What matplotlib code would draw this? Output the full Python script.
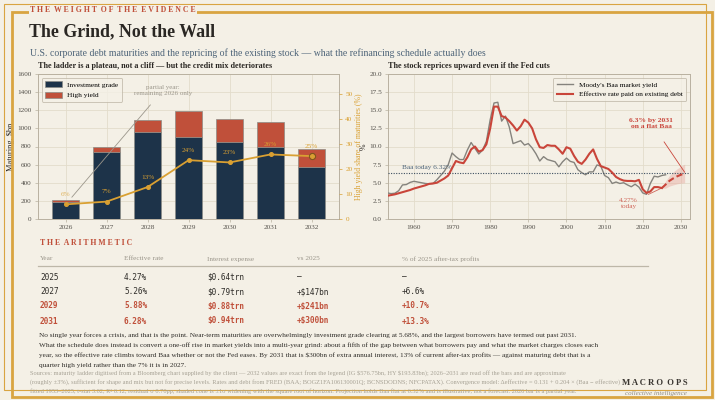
import matplotlib.pyplot as plt
from matplotlib.patches import Rectangle

plt.rcParams['font.family'] = ['Liberation Serif', 'DejaVu Serif', 'DejaVu Sans']

# maturity ladder, $bn
ladder_years = ['2026', '2027', '2028', '2029', '2030', '2031', '2032']
ig_bn = [193, 735, 955, 910, 855, 790, 576.75]
hy_bn = [12, 55, 140, 280, 250, 275, 193.83]

# Moody's Baa yield, annual
baa_years = list(range(1953, 2027))
baa_yield = [3.6, 3.5, 3.55, 3.9, 4.7, 4.75, 5.05, 5.2, 5.1, 5.0, 4.9, 4.85,
             4.9, 5.4, 6.0, 6.6, 7.5, 9.1, 8.6, 8.2, 8.2, 9.5, 10.55, 9.75,
             8.97, 9.5, 10.7, 13.7, 16.0, 16.1, 13.5, 14.2, 12.7, 10.4, 10.6, 10.8,
             10.2, 10.4, 9.8, 9.0, 8.0, 8.6, 8.2, 8.05, 7.9, 7.2, 7.9, 8.4,
             7.95, 7.8, 6.8, 6.4, 6.1, 6.5, 6.5, 7.45, 7.3, 6.0, 5.7, 4.9,
             5.1, 4.9, 5.0, 4.7, 4.45, 4.8, 4.4, 3.6, 3.4, 4.9, 5.9, 5.8,
             6.0, 6.1]

# effective rate paid on existing debt
eff_years = list(range(1953, 2026))
eff_rate = [3.2, 3.3, 3.4, 3.55, 3.7, 3.85, 4.0, 4.2, 4.35, 4.5, 4.65, 4.85,
            4.9, 5.0, 5.3, 5.6, 6.0, 7.0, 8.0, 7.8, 7.7, 8.5, 9.6, 10.0,
            9.3, 9.5, 10.3, 12.5, 15.5, 15.5, 14.2, 14.0, 13.5, 12.9, 12.2, 12.8,
            13.7, 13.3, 12.5, 11.0, 9.9, 9.8, 10.2, 10.1, 10.1, 9.6, 9.0, 9.9,
            9.7, 8.7, 7.9, 7.6, 8.2, 9.0, 9.6, 8.3, 7.3, 7.1, 6.9, 6.4,
            5.8, 5.5, 5.3, 5.25, 5.25, 5.2, 5.4, 4.1, 3.6, 3.8, 4.4, 4.4,
            4.27]

# projection with a flat Baa
proj_years = [2025, 2026, 2027, 2028, 2029, 2030, 2031]
proj_rate = [4.27, 4.75, 5.26, 5.6, 5.88, 6.1, 6.28]
cone_half = [0.0, 0.5, 0.72, 0.9, 1.03, 1.16, 1.28]
baa_today = 6.32

table_header = ['Year', 'Effective rate', 'Interest expense', 'vs 2025',
                '% of 2025 after-tax profits']
table_rows = [
    ['2025', '4.27%', '$0.64trn', '\u2013', '\u2013'],
    ['2027', '5.26%', '$0.79trn', '+$147bn', '+6.6%'],
    ['2029', '5.88%', '$0.88trn', '+$241bn', '+10.7%'],
    ['2031', '6.28%', '$0.94trn', '+$300bn', '+13.3%'],
]
highlight_rows = [False, False, True, True]

body_lines = [
    'No single year forces a crisis, and that is the point. Near-term maturities are overwhelmingly investment grade clearing at 5.68%, and the largest borrowers have termed out past 2031.',
    'What the schedule does instead is convert a one-off rise in market yields into a multi-year grind: about a fifth of the gap between what borrowers pay and what the market charges closes each',
    'year, so the effective rate climbs toward Baa whether or not the Fed eases. By 2031 that is \\$300bn of extra annual interest, 13% of current after-tax profits \u2014 against maturing debt that is a',
    'quarter high yield rather than the 7% it is in 2027.',
]
source_lines = [
    'Sources: maturity ladder digitised from a Bloomberg chart supplied by the client \u2014 2032 values are exact from the legend (IG \\$576.75bn, HY \\$193.83bn); 2026\u20132031 are read off the bars and are approximate',
    '(roughly \u00b13%), sufficient for shape and mix but not for precise levels. Rates and debt from FRED (BAA; BOGZ1FA106130001Q; BCNSDODNS; NFCPATAX). Convergence model: \u0394effective = 0.131 + 0.204 \u00d7 (Baa \u2212 effective)',
    'fitted 1953\u20132025, t-stat 3.02, R\u00b2 0.12, residual \u03c3 0.70pp; shaded cone is \u00b11\u03c3 widening with the square root of horizon. Projection holds Baa flat at 6.32% and is illustrative, not a forecast. 2026 bar is a partial year.',
]

BG = '#f4f0e6'
NAVY = '#1d3349'
RED = '#c0503a'
GOLD = '#d9a032'
FRAME = '#d9a441'
GRID = '#e3dccb'
SPINE = '#b9b1a0'
INK = '#2a2723'
SLATE = '#4c6378'
GRAY = '#9b968b'

W, H = 715, 400


def fx(px):
    return px / W


def fy(py):
    return 1 - py / H


def spaced(s):
    return '  '.join(' '.join(w) for w in s.split(' '))


fig = plt.figure(figsize=(7.15, 4.0), dpi=100, facecolor=BG)

# double frame
fig.patches.append(Rectangle((fx(4), fy(390)), fx(702), 386 / H, transform=fig.transFigure,
                             fill=False, edgecolor=FRAME, lw=0.8, zorder=0))
fig.patches.append(Rectangle((fx(12), fy(397)), fx(700), 385 / H, transform=fig.transFigure,
                             fill=False, edgecolor=FRAME, lw=2.0, zorder=0))

fig.text(fx(30), fy(10), spaced('THE WEIGHT OF THE EVIDENCE'), color=RED, fontsize=5.6,
         fontweight='bold', va='center', ha='left',
         bbox=dict(facecolor=BG, edgecolor='none', pad=1.0))
fig.text(fx(29), fy(32), 'The Grind, Not the Wall', color=INK, fontsize=12.9,
         fontweight='bold', va='center')
fig.text(fx(30), fy(53), 'U.S. corporate debt maturities and the repricing of the existing stock '
         '\u2014 what the refinancing schedule actually does', color=SLATE, fontsize=7.05, va='center')


def style_axes(ax):
    ax.set_facecolor(BG)
    for sp in ax.spines.values():
        sp.set_color(SPINE)
        sp.set_linewidth(0.7)
    ax.tick_params(labelsize=5.2, colors='#55524c', length=2.5, width=0.5, color=SPINE, pad=2)
    ax.grid(True, color=GRID, lw=0.6)
    ax.set_axisbelow(True)


# ---- left: maturity ladder
ax1 = fig.add_axes([fx(38), fy(219), fx(301), 145 / H])
style_axes(ax1)
xs = list(range(len(ladder_years)))
ax1.bar(xs, ig_bn, width=0.65, color=NAVY, edgecolor='#8c8c86', lw=0.5, label='Investment grade', zorder=2)
ax1.bar(xs, hy_bn, width=0.65, bottom=ig_bn, color=RED, edgecolor='#8c8c86', lw=0.5,
        label='High yield', zorder=2)
ax1.set_xticks(xs)
ax1.set_xticklabels(ladder_years)
ax1.set_xlim(-0.675, 6.67)
ax1.set_ylim(0, 1600)
ax1.set_yticks(range(0, 1601, 200))
ax1.set_ylabel('Maturing, \\$bn', fontsize=6, color=INK, labelpad=2)
ax1.set_title('The ladder is a plateau, not a cliff \u2014 but the credit mix deteriorates',
              loc='left', fontsize=5.9, fontweight='bold', color=INK, pad=4)
leg = ax1.legend(loc='upper left', fontsize=5.3, frameon=True, facecolor=BG, edgecolor=SPINE,
                 handlelength=2.2, handleheight=0.9, borderpad=0.5, labelspacing=0.5)
leg.get_frame().set_linewidth(0.6)
ax1.annotate('partial year:\nremaining 2026 only', xy=(0.15, 240), xytext=(2.37, 1420),
             fontsize=5, color=GRAY, ha='center', va='center',
             arrowprops=dict(arrowstyle='-', color=GRAY, lw=0.6, shrinkA=6, shrinkB=0), zorder=4)

share = [h / (i + h) * 100 for i, h in zip(ig_bn, hy_bn)]
ax1r = ax1.twinx()
ax1r.set_ylim(0, 58)
ax1r.set_yticks(range(0, 51, 10))
ax1r.tick_params(labelsize=5.2, colors=GOLD, length=2.5, width=0.5, pad=2)
for sp in ax1r.spines.values():
    sp.set_visible(False)
ax1r.plot(xs, share, color=GOLD, lw=1.3, marker='o', ms=2.6, zorder=5)
ax1r.plot(xs[-1], share[-1], 'o', ms=4.5, mfc='none', mec='#7a5a1a', mew=0.7, zorder=6)
for i, s in enumerate(share):
    ax1r.annotate(f'{s:.0f}%', (xs[i], s), xytext=(0, 7), textcoords='offset points',
                  ha='center', va='center', fontsize=5.2, color=GOLD, alpha=0.75 if i == 0 else 1)
ax1r.set_ylabel('High yield share of maturities (%)', fontsize=5.6, color=GOLD, labelpad=2)

# ---- right: effective rate vs Baa
ax2 = fig.add_axes([fx(388), fy(219), fx(302), 145 / H])
style_axes(ax2)
ax2.plot(baa_years, baa_yield, color='#85837d', lw=1.0, label="Moody's Baa market yield", zorder=3)
ax2.plot(eff_years, eff_rate, color='#c9453a', lw=1.5, label='Effective rate paid on existing debt', zorder=4)
ax2.plot(proj_years, proj_rate, color='#c9453a', lw=1.5, ls=(0, (3, 1.5)), zorder=4)
ax2.fill_between(proj_years, [p - c for p, c in zip(proj_rate, cone_half)],
                 [p + c for p, c in zip(proj_rate, cone_half)], color='#e8a9a0', alpha=0.45,
                 lw=0, zorder=2)
ax2.axhline(baa_today, color='#3d4f60', lw=0.8, ls=(0, (1, 1.3)), zorder=3)
ax2.text(1957, baa_today + 0.85, f'Baa today {baa_today:.2f}%', fontsize=5.2, color=SLATE,
         ha='left', va='center')
ax2.set_xlim(1953.2, 2032.4)
ax2.set_ylim(0, 20)
ax2.set_xticks(range(1960, 2031, 10))
ax2.set_yticks([i * 2.5 for i in range(9)])
ax2.yaxis.set_major_formatter(plt.FormatStrFormatter('%.1f'))
ax2.set_ylabel('%', fontsize=5.6, color=INK, labelpad=1)
ax2.set_title('The stock reprices upward even if the Fed cuts', loc='left', fontsize=5.9,
              fontweight='bold', color=INK, pad=4)
leg2 = ax2.legend(loc='upper right', fontsize=5.3, frameon=True, facecolor=BG, edgecolor=SPINE,
                  handlelength=2.2, borderpad=0.5, labelspacing=0.5)
leg2.get_frame().set_linewidth(0.6)
ax2.annotate('6.3% by 2031\non a flat Baa', xy=(2031, 6.45), xytext=(2022.3, 13.2),
             fontsize=5.4, fontweight='bold', color='#c9453a', ha='center', va='center',
             arrowprops=dict(arrowstyle='-', color='#c9453a', lw=0.6, shrinkA=9, shrinkB=0))
ax2.annotate('4.27%\ntoday', xy=(2025, 4.27), xytext=(2016.3, 2.1),
             fontsize=5.2, color='#d0665a', ha='center', va='center',
             arrowprops=dict(arrowstyle='-', color='#d0665a', lw=0.6, shrinkA=6, shrinkB=0))

# ---- the arithmetic table
fig.text(fx(40), fy(243), spaced('THE ARITHMETIC'), color=RED, fontsize=5.6,
         fontweight='bold', va='center')
col_x = [40, 124, 207, 297, 402]
for cx, h in zip(col_x, table_header):
    fig.text(fx(cx), fy(259), h, color=GRAY, fontsize=5.2, va='center')
fig.add_artist(plt.Line2D([fx(38), fx(648)], [fy(266), fy(266)], color='#bdb7a8', lw=0.9))
row_y = [277, 292, 306, 321]
for ry, row, hi in zip(row_y, table_rows, highlight_rows):
    for cx, cell in zip(col_x, row):
        fig.text(fx(cx), fy(ry), cell.replace('$', '\\$'), family='DejaVu Sans Mono',
                 fontsize=5.6, va='center', color=RED if hi else '#2e2c28',
                 fontweight='bold' if hi else 'normal')

for i, line in enumerate(body_lines):
    fig.text(fx(39), fy(335 + 10 * i), line, color='#2e2c28', fontsize=5.25, va='center')
for i, line in enumerate(source_lines):
    fig.text(fx(30), fy(373 + 9 * i), line, color='#a7a295', fontsize=4.6, va='center')

fig.text(fx(688), fy(383), spaced('MACRO OPS'), color='#3a3631', fontsize=6.2,
         fontweight='bold', ha='right', va='center',
         bbox=dict(facecolor=BG, edgecolor='none', pad=0.5))
fig.text(fx(687), fy(393), 'collective intelligence', color='#8f8a80', fontsize=5,
         style='italic', ha='right', va='center')

fig.savefig('out.png', dpi=100, facecolor=BG)
